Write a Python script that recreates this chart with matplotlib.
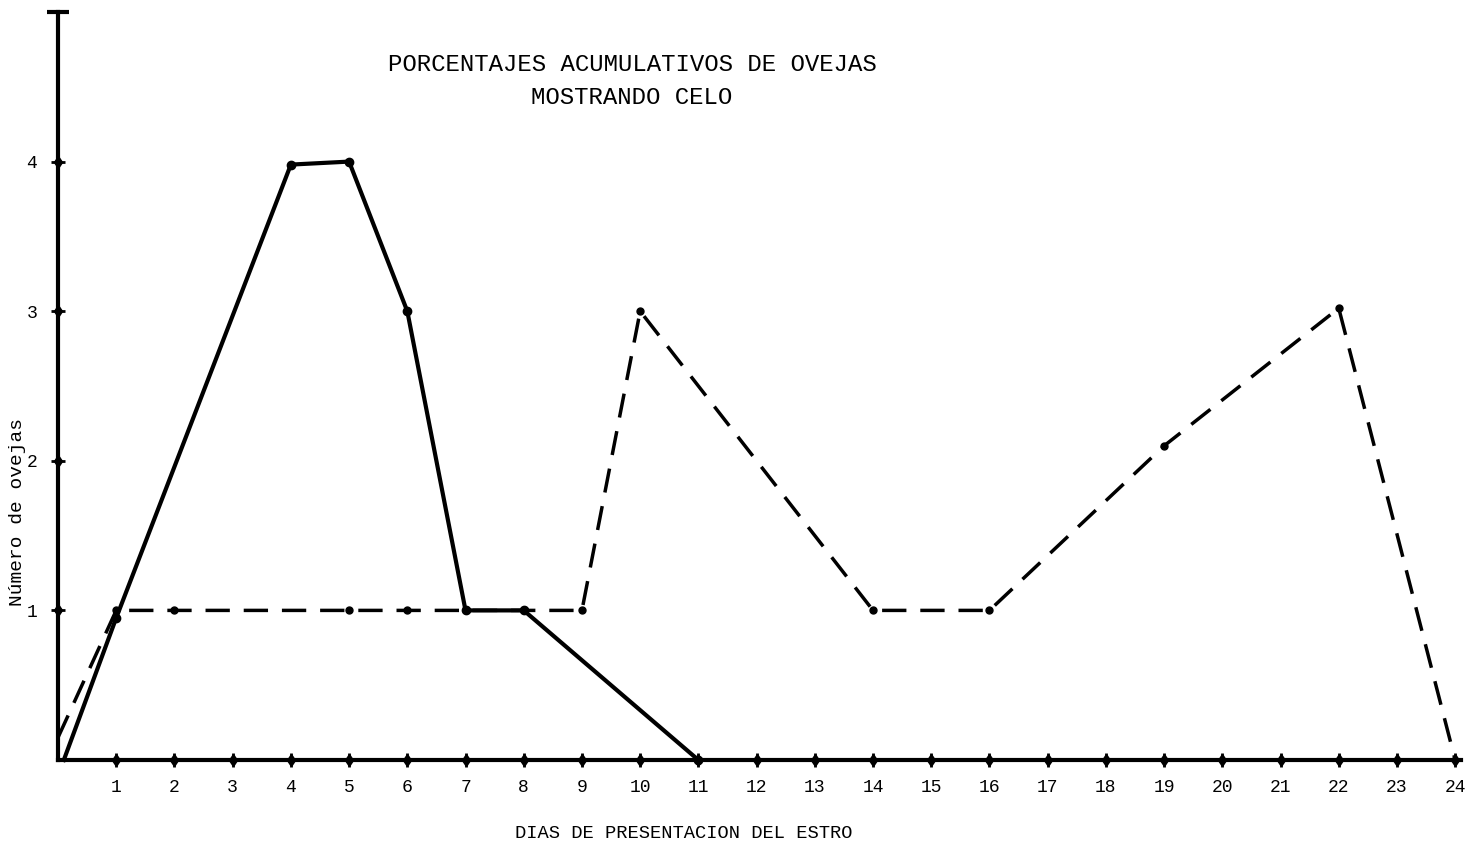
import matplotlib
matplotlib.use("Agg")
import matplotlib.pyplot as plt

# Data
x_ticks = list(range(1, 25))
x_tick_labels = [str(v) for v in x_ticks]
y_ticks = [1, 2, 3, 4]

solid_days = [0.1, 1, 4, 5, 6, 7, 8, 11]
solid_vals = [0.0, 0.95, 3.98, 4.0, 3.0, 1.0, 1.0, 0.0]

dashed_days = [0, 1, 2, 5, 6, 7, 8, 9, 10, 14, 16, 19, 22, 24]
dashed_vals = [0.15, 1.0, 1.0, 1.0, 1.0, 1.0, 1.0, 1.0, 3.0, 1.0, 1.0, 2.1, 3.02, 0.0]

title_lines = "PORCENTAJES ACUMULATIVOS DE OVEJAS\nMOSTRANDO CELO"
x_label = "DIAS DE PRESENTACION DEL ESTRO"
y_label = "Número de ovejas"

mono = ["Liberation Mono", "DejaVu Sans Mono"]

fig = plt.figure(figsize=(14.8, 8.49), dpi=100)
ax = fig.add_axes([58 / 1480, 1 - 760 / 849, (1461 - 58) / 1480, (760 - 12) / 849])
ax.set_xlim(0, 24.1)
ax.set_ylim(0, 5)

for s in ["top", "right"]:
    ax.spines[s].set_visible(False)
for s in ["left", "bottom"]:
    ax.spines[s].set_linewidth(3)
    ax.spines[s].set_color("black")

ax.plot(solid_days, solid_vals, color="black", lw=3, marker="o", ms=6,
        markevery=list(range(1, len(solid_days))),
        solid_joinstyle="round", clip_on=False, zorder=3)
ax.plot(dashed_days, dashed_vals, color="black", lw=2.5, linestyle=(0, (7, 4)),
        marker="o", ms=5, markevery=list(range(1, len(dashed_days) - 1)),
        clip_on=False, zorder=3)

# axis tick blobs
ax.plot(x_ticks, [0] * len(x_ticks), linestyle="none", marker="d", ms=6,
        color="black", clip_on=False, zorder=4)
ax.plot([0] * len(y_ticks), y_ticks, linestyle="none", marker="d", ms=6,
        color="black", clip_on=False, zorder=4)
ax.plot([0], [5], marker="_", ms=16, mew=3, color="black", clip_on=False)

ax.set_xticks(x_ticks)
ax.set_xticklabels(x_tick_labels, family=mono, fontsize=13)
ax.set_yticks(y_ticks)
ax.set_yticklabels([str(v) for v in y_ticks], family=mono, fontsize=13)
ax.tick_params(axis="both", direction="inout", length=10, width=2, color="black")
ax.tick_params(axis="x", pad=9)
ax.tick_params(axis="y", pad=10)

fig.text(632 / 1480, 1 - 81 / 849, title_lines, ha="center", va="center",
         family=mono, fontsize=17.3, linespacing=1.6)
fig.text(684 / 1480, 1 - 834 / 849, x_label, ha="center", va="center",
         family=mono, fontsize=13.5)
fig.text(18 / 1480, 1 - 512 / 849, y_label, ha="center", va="center",
         rotation=90, family=mono, fontsize=14)

fig.savefig("out.png", dpi=100)
